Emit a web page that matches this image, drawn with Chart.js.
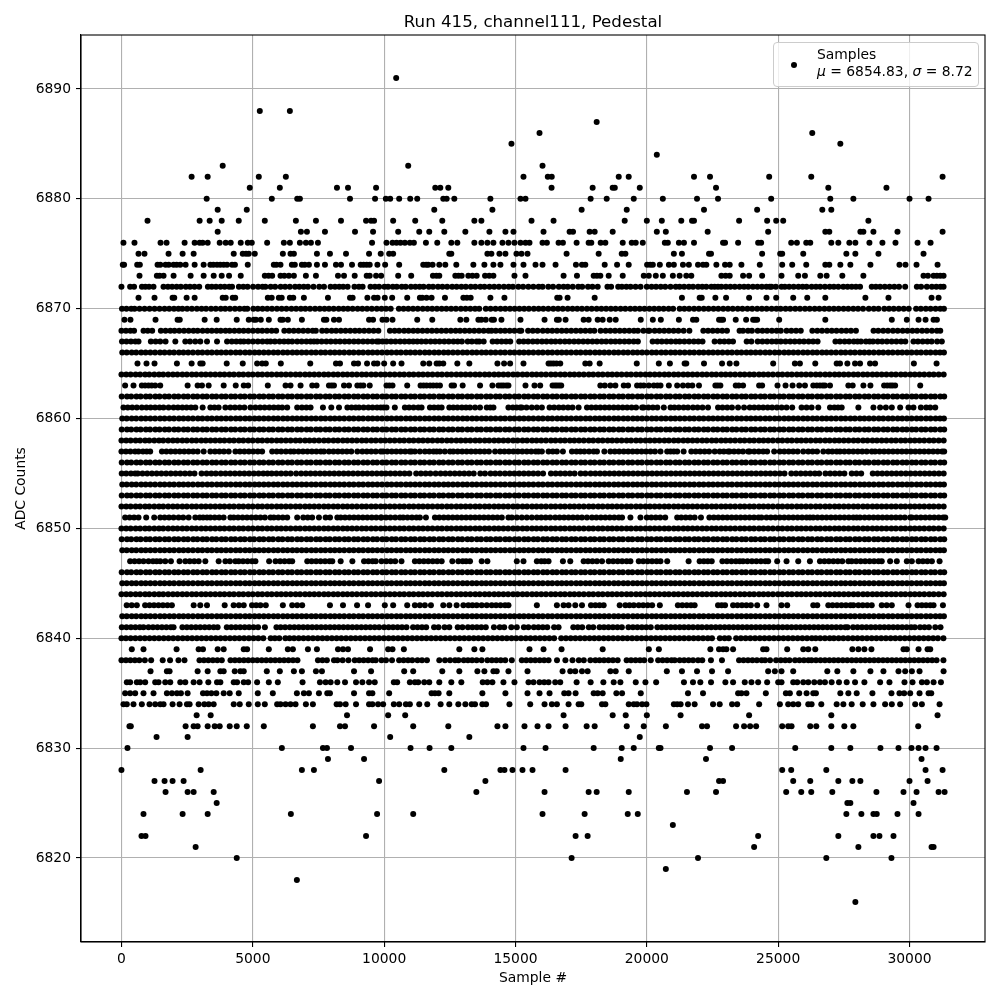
<!DOCTYPE html>
<html>
<head>
<meta charset="utf-8">
<script src="https://cdn.jsdelivr.net/npm/chart.js@4/dist/chart.umd.min.js"></script>
<style>
  body { margin: 0; background: #fff; }
  #wrap { position: relative; width: 1000px; height: 1000px; }
  #legend {
    position: absolute; left: 773px; top: 42px; width: 204px; height: 43px;
    background: rgba(255,255,255,0.8); border: 1px solid #ccc; border-radius: 4px;
    font: 13.89px "DejaVu Sans"; color: #000; line-height: 16.5px;
  }
  #legend .dot { position: absolute; left: 17px; top: 19px; width: 6px; height: 6px; border-radius: 50%; background: #000; }
  #legend .txt { position: absolute; left: 43px; top: 3px; white-space: nowrap; }
</style>
</head>
<body>
<div id="wrap">
  <canvas id="myChart" width="1000" height="1000"></canvas>
  <div id="legend"><span class="dot"></span><div class="txt">Samples<br><i>μ</i> = 6854.83, <i>σ</i> = 8.72</div></div>
</div>
<script>
const xTicks = [0, 5000, 10000, 15000, 20000, 25000, 30000];
const yTicks = [6820, 6830, 6840, 6850, 6860, 6870, 6880, 6890];

// outer levels, one dot at a time
const y6891 = [10458];
const y6888 = [5266, 6411];
const y6887 = [18090];
const y6886 = [15915, 26297];
const y6885 = [14846, 27366];
const y6884 = [20380];
const y6883 = [3854, 10916, 16029];
const y6882 = [2671, 3282, 5228, 6258, 15304, 16230, 16380, 18930, 19310, 21795, 22405, 24657, 26259, 31258];
const y6881 = [4884, 6029, 8204, 8624, 9693, 11946, 12137, 12442, 16373, 17937, 18700, 18780, 19731, 22634, 26908, 29121];
const y6880 = [3244, 5724, 6691, 6793, 8700, 9654, 10064, 10229, 10572, 10992, 11259, 12250, 12380, 12671, 14045, 15190, 15380, 17861, 18472, 19502, 20609, 21910, 22710, 24733, 26984, 27862, 30000, 30724];
const y6879 = [3663, 4770, 11908, 14121, 17518, 19235, 22176, 24199, 26679, 27022];
const y6878 = [992, 2976, 3358, 3816, 4465, 5457, 6640, 7403, 8357, 9311, 9502, 9616, 10343, 11183, 12213, 13434, 13702, 15610, 16449, 19158, 20000, 20570, 21311, 21720, 21795, 23512, 24580, 24924, 25191, 28434];
const y6877 = [3663, 6831, 7060, 7747, 8891, 9578, 10534, 11336, 11717, 12290, 13091, 14007, 14617, 14923, 16067, 17060, 17190, 17823, 18014, 18700, 20380, 20723, 22316, 24618, 26794, 26946, 28129, 28243, 28625, 29541, 31258];
const y6876 = [76, 496, 1488, 1717, 2404, 2786, 2976, 3091, 3282, 3740, 3969, 4159, 4541, 4808, 4961, 5546, 6182, 6411, 6793, 7022, 7212, 7479, 9540, 10089, 10318, 10471, 10623, 10789, 10979, 11132, 11590, 12022, 12557, 12786, 13434, 13702, 13930, 14159, 14503, 14732, 14961, 15190, 15380, 15533, 16029, 16195, 16640, 16805, 17327, 17785, 17886, 18243, 18421, 19082, 19425, 19578, 19845, 20685, 20799, 21220, 21413, 21795, 22901, 22977, 23474, 24237, 24351, 25496, 25712, 26068, 26221, 27022, 27290, 27709, 27938, 28473, 28968, 29465, 30305, 30801];
const y6875 = [649, 877, 1793, 2328, 2748, 4274, 4617, 4744, 4846, 5075, 6144, 6436, 6564, 7441, 7937, 8548, 9425, 9870, 10191, 10343, 12480, 12557, 13930, 14083, 14388, 14617, 15037, 15228, 15457, 16945, 18166, 19044, 19184, 21029, 21336, 22367, 22443, 24389, 25076, 25153, 25954, 27595, 27938, 28816, 30533];
const y6874 = [51, 100, 600, 700, 1374, 1480, 1679, 1800, 1984, 2100, 2239, 2442, 2786, 3129, 3384, 3500, 3638, 3760, 3892, 4020, 4210, 4320, 4808, 5800, 5900, 6054, 6487, 6600, 6869, 6980, 7136, 7441, 7747, 8166, 8357, 8777, 9107, 9220, 9336, 9450, 9743, 10038, 10572, 11488, 11600, 11679, 11844, 12099, 12328, 12747, 13396, 13816, 14159, 14426, 14923, 15304, 15762, 16029, 16525, 17301, 17531, 17658, 18396, 18867, 19310, 20010, 20130, 20228, 20495, 20839, 21029, 21375, 21600, 21948, 22138, 22265, 22647, 22977, 23155, 23600, 24300, 25153, 25534, 26068, 26794, 26946, 27366, 27747, 28511, 29617, 29846, 30266, 31067];
const y6873 = [687, 1348, 1450, 1603, 1984, 2633, 3129, 3511, 3816, 4096, 4541, 5457, 5600, 5737, 6054, 6200, 6373, 6564, 7021, 7403, 8243, 8472, 8879, 9336, 9450, 9693, 9886, 10534, 11030, 11857, 11990, 12099, 12709, 12830, 12951, 13205, 13360, 13523, 13841, 14000, 14159, 14961, 15380, 16831, 17340, 17976, 18100, 18230, 18548, 19082, 19883, 20074, 20341, 20609, 20990, 21248, 21502, 21693, 22838, 23000, 23155, 23664, 23893, 24389, 25127, 25763, 26018, 26603, 26844, 27442, 28243, 30533, 30700, 30915, 31042, 31169, 31296];
const y6872 = [0, 330, 480, 780, 910, 1050, 1220, 1600, 1770, 1930, 2100, 2260, 2450, 2610, 2780, 2960, 3290, 3440, 3600, 3770, 3930, 4100, 4210, 4470, 4640, 4800, 5010, 5200, 5370, 5480, 5680, 5850, 6060, 6230, 6410, 6610, 6770, 6940, 7100, 7310, 7530, 7710, 7960, 8130, 8290, 8440, 8610, 8870, 9040, 9180, 9480, 9650, 9810, 10010, 10150, 10330, 10480, 10670, 10820, 11020, 11190, 11350, 11500, 11700, 11860, 12050, 12220, 12400, 12590, 12760, 12940, 13110, 13300, 13470, 13660, 13820, 14010, 14190, 14370, 14560, 14740, 14900, 15110, 15290, 15490, 15680, 15880, 16030, 16250, 16430, 16650, 16830, 16990, 17180, 17390, 17540, 17760, 17930, 18130, 18500, 18640, 18910, 19050, 19220, 19380, 19570, 19760, 20000, 20180, 20350, 20530, 20700, 20900, 21100, 21248, 21420, 21600, 21760, 21950, 22110, 22265, 22455, 22580, 22710, 22838, 23010, 23180, 23350, 23530, 23700, 23860, 24040, 24210, 24380, 24550, 24682, 24746, 24910, 25127, 25254, 25420, 25590, 25770, 25930, 26081, 26272, 26440, 26600, 26780, 26960, 27120, 27290, 27480, 27640, 27800, 27960, 28116, 28561, 28720, 28880, 29060, 29240, 29420, 29600, 29834, 30279, 30440, 30660, 30850, 31020, 31180, 31296];
const y6871 = [649, 1259, 1946, 2010, 2480, 2786, 3854, 3970, 4236, 4330, 5571, 5720, 5991, 6100, 6411, 6540, 6945, 7861, 8700, 8800, 9362, 9616, 9750, 10025, 10305, 10878, 11361, 11450, 11615, 11806, 12315, 13015, 13150, 13294, 14045, 14579, 16589, 16680, 16983, 18014, 21336, 22011, 22090, 22609, 23016, 23893, 24555, 24924, 25572, 26106, 26794, 28320, 29198, 30839, 31106];
const y6870 = [20, 190, 370, 500, 690, 880, 1070, 1260, 1450, 1640, 1820, 2000, 2170, 2320, 2500, 2680, 2870, 3050, 3220, 3410, 3590, 3780, 3950, 4130, 4320, 4500, 4680, 4790, 5020, 5190, 5370, 5550, 5730, 5920, 6100, 6280, 6470, 6650, 6830, 7000, 7180, 7370, 7550, 7730, 7900, 8080, 8270, 8450, 8620, 8800, 8990, 9170, 9350, 9530, 9720, 9900, 10070, 10250, 10560, 10740, 10920, 11100, 11280, 11470, 11650, 11830, 12010, 12190, 12370, 12550, 12730, 12920, 13100, 13280, 13460, 13620, 13870, 14050, 14240, 14430, 14610, 14790, 14970, 15150, 15330, 15510, 15700, 15880, 16060, 16250, 16440, 16620, 16800, 16990, 17170, 17350, 17530, 17720, 17900, 18090, 18270, 18450, 18630, 18810, 19000, 19180, 19370, 19550, 19730, 19910, 20100, 20280, 20460, 20640, 20830, 21000, 21250, 21430, 21610, 21800, 21980, 22170, 22350, 22540, 22720, 22910, 23090, 23270, 23460, 23640, 23830, 24010, 24200, 24380, 24560, 24750, 24930, 25090, 25280, 25460, 25650, 25830, 26020, 26200, 26390, 26570, 26760, 26940, 27120, 27300, 27490, 27670, 27860, 28040, 28230, 28450, 28640, 28820, 29040, 29220, 29400, 29590, 29780, 29970, 30250, 30430, 30620, 30800, 30990, 31170, 31310];
const y6869 = [114, 343, 1297, 2137, 2220, 3167, 3625, 4388, 4846, 5037, 5120, 5304, 5610, 6054, 6140, 6335, 6869, 7708, 7800, 8090, 8281, 9425, 9578, 9936, 10089, 10318, 11259, 11832, 12900, 13129, 13587, 13700, 13867, 14096, 14180, 14465, 15190, 16106, 16576, 16650, 16907, 17594, 17785, 18128, 18319, 18586, 18815, 19769, 20228, 20533, 21220, 21757, 21884, 22749, 22830, 22901, 23384, 23779, 24046, 24120, 24199, 25038, 26794, 29325, 29897, 30343, 30610, 30915, 31042];
const y6868 = [0, 170, 340, 480, 840, 1000, 1170, 1500, 1680, 1860, 2020, 2200, 2380, 2560, 2740, 2900, 3090, 3270, 3440, 3620, 3780, 3960, 4120, 4300, 4480, 4650, 4830, 5010, 5190, 5360, 5540, 5720, 5890, 6200, 6380, 6560, 6740, 6920, 7100, 7280, 7400, 7640, 7810, 8000, 8170, 8350, 8530, 8710, 8890, 9060, 9240, 9420, 9600, 9780, 10220, 10400, 10570, 10760, 10930, 11110, 11280, 11460, 11640, 11820, 12000, 12180, 12360, 12540, 12720, 12890, 13070, 13250, 13430, 13610, 13790, 13970, 14090, 14250, 14430, 14600, 14780, 14960, 15150, 15220, 15480, 15660, 15840, 16040, 16220, 16400, 16580, 16760, 16940, 17120, 17300, 17480, 17660, 17840, 18000, 18240, 18430, 18610, 18790, 18970, 19150, 19330, 19510, 19660, 19870, 20050, 20100, 20300, 20480, 20660, 20840, 21020, 21200, 21400, 21620, 22150, 22330, 22510, 22690, 22870, 23050, 23530, 23660, 23850, 24000, 24220, 24400, 24580, 24760, 24940, 25100, 25320, 25500, 25680, 25860, 26300, 26490, 26670, 26860, 27040, 27220, 27410, 27590, 27770, 27960, 28630, 28810, 29000, 29180, 29370, 29550, 29740, 29920, 30110, 30290, 30480, 30660, 30850, 31040, 31170];
const y6867 = [20, 190, 360, 530, 649, 1120, 1300, 1475, 1679, 2051, 2430, 2610, 2810, 3002, 3257, 3638, 4020, 4200, 4370, 4530, 4658, 4830, 5010, 5190, 5370, 5546, 5673, 5840, 6020, 6190, 6350, 6500, 6690, 6860, 7040, 7200, 7327, 7450, 7620, 7800, 7970, 8150, 8320, 8500, 8670, 8850, 9020, 9200, 9370, 9550, 9720, 9800, 9940, 10090, 10260, 10430, 10610, 10780, 10950, 11107, 11260, 11420, 11590, 11770, 11940, 12110, 12290, 12460, 12640, 12800, 12960, 13180, 13340, 13520, 13620, 13790, 14130, 14300, 14470, 14640, 14800, 15140, 15310, 15480, 15660, 15830, 16010, 16180, 16360, 16520, 16700, 16880, 17050, 17230, 17400, 17580, 17750, 17930, 18100, 18280, 18450, 18630, 18800, 18970, 19150, 19320, 19500, 19660, 20220, 20400, 20570, 20750, 20920, 21100, 21250, 21430, 21610, 21790, 21960, 22120, 22580, 22780, 22950, 23120, 23280, 23800, 23980, 24220, 24400, 24580, 24760, 24930, 25100, 25280, 25460, 25630, 25810, 25980, 26160, 26330, 26500, 27180, 27350, 27530, 27700, 27880, 28020, 28150, 28340, 28480, 28610, 28790, 28960, 29140, 29320, 29500, 29680, 29840, 30150, 30320, 30500, 30680, 30840, 31050, 31230];
const y6865 = [610, 954, 1259, 2111, 2671, 3002, 3091, 4007, 4617, 5165, 5355, 5495, 6067, 7187, 8166, 8319, 8853, 9006, 9349, 9616, 9743, 10000, 10343, 10661, 11488, 11717, 11997, 12100, 12251, 12786, 13243, 14312, 14566, 14795, 15304, 16258, 16350, 16449, 16560, 16704, 17658, 17823, 18204, 19616, 20456, 20878, 21438, 21502, 22176, 22863, 23155, 23410, 24809, 25636, 25827, 26412, 27226, 27353, 27633, 27925, 28116, 28498, 28689, 30165, 31029];
const y6863 = [140, 458, 776, 900, 1030, 1150, 1285, 1476, 2519, 2900, 3065, 3320, 3892, 4350, 4655, 4821, 5571, 6246, 6436, 6818, 7263, 7428, 7899, 8000, 8090, 8472, 8662, 8980, 9100, 9209, 9451, 10089, 10200, 10318, 10878, 11386, 11500, 11615, 11750, 11870, 12000, 12124, 12569, 12659, 12989, 13651, 14121, 14350, 14450, 14541, 14650, 14732, 15380, 15724, 15940, 16411, 16500, 16576, 16660, 16741, 18230, 18400, 18612, 18803, 19121, 19286, 19629, 19760, 19883, 20074, 20265, 20400, 20520, 20838, 21155, 21375, 21566, 21731, 21985, 22609, 22700, 22800, 23384, 23500, 23664, 24275, 24389, 24974, 25280, 25547, 25801, 26018, 26336, 26470, 26590, 26700, 26781, 26972, 27671, 27836, 28244, 28511, 29032, 29150, 29261, 29350, 29452, 30407];
const y6861 = [76, 240, 410, 585, 776, 950, 1110, 1280, 1450, 1600, 1794, 1984, 2150, 2320, 2480, 2650, 2811, 3091, 3384, 3540, 3700, 3956, 4147, 4320, 4500, 4680, 4910, 5100, 5280, 5450, 5630, 5800, 5970, 6118, 6309, 6690, 6870, 7040, 7200, 7670, 7988, 8281, 8600, 8760, 8917, 9044, 9220, 9400, 9560, 9730, 9870, 9980, 10090, 10407, 10789, 10950, 11120, 11300, 11424, 11743, 11900, 12060, 12188, 12480, 12633, 12790, 12960, 13116, 13269, 13460, 13650, 13905, 14040, 14160, 14732, 14900, 15040, 15177, 15240, 15420, 15620, 15813, 16004, 16296, 16470, 16650, 16820, 17000, 17170, 17403, 17721, 17890, 18060, 18230, 18400, 18570, 18740, 18910, 19080, 19250, 19420, 19590, 19820, 19883, 20060, 20230, 20400, 20647, 20902, 21050, 21218, 21400, 21566, 21757, 21930, 22120, 22329, 22710, 22880, 23060, 23240, 23473, 23702, 23918, 24090, 24260, 24430, 24600, 24770, 24950, 25130, 25318, 25534, 25890, 26081, 26272, 26526, 26972, 27140, 27280, 27417, 28053, 28625, 28880, 29100, 29325, 29643, 29960, 30150, 30432, 30635, 30788, 30979];
const y6857 = [0, 170, 340, 520, 650, 820, 960, 1094, 1540, 1710, 1880, 2050, 2220, 2390, 2560, 2730, 2900, 3130, 3384, 3560, 3730, 3900, 4083, 4338, 4510, 4680, 4850, 5020, 5190, 5355, 5737, 5910, 6080, 6260, 6436, 6564, 6740, 6910, 7080, 7250, 7420, 7590, 7708, 7899, 8070, 8240, 8410, 8580, 8750, 8980, 9171, 9340, 9510, 9680, 9870, 9960, 10120, 10290, 10460, 10630, 10800, 10970, 11043, 11170, 11361, 11552, 11720, 11880, 11997, 12124, 12310, 12506, 12633, 12800, 12970, 13140, 13310, 13480, 13650, 13820, 13990, 14223, 14414, 14580, 14750, 14920, 15090, 15260, 15430, 15600, 15770, 15877, 16004, 16258, 16420, 16576, 16805, 17149, 17320, 17467, 17620, 17800, 17976, 18102, 18383, 18612, 18780, 18950, 19120, 19290, 19460, 19630, 19800, 19970, 20140, 20310, 20520, 20774, 20900, 21028, 21155, 21400, 21693, 21860, 22030, 22200, 22370, 22583, 22774, 22930, 23092, 23155, 23320, 23490, 23660, 23855, 23918, 24090, 24260, 24430, 24580, 24847, 25063, 25230, 25400, 25570, 25740, 25954, 26145, 26310, 26480, 26717, 26908, 27060, 27226, 27353, 27520, 27690, 27860, 28030, 28200, 28370, 28562, 28689, 28860, 29030, 29200, 29370, 29540, 29710, 29880, 30050, 30220, 30390, 30560, 30730, 30900, 31070, 31240, 31320];
const y6855 = [10, 180, 360, 520, 620, 800, 980, 1160, 1340, 1520, 1700, 1880, 2060, 2240, 2420, 2600, 2780, 3050, 3240, 3420, 3590, 3780, 3960, 4140, 4320, 4500, 4680, 4860, 5040, 5220, 5400, 5560, 5720, 5900, 6080, 6260, 6440, 6650, 6840, 7020, 7200, 7380, 7560, 7740, 7920, 8100, 8280, 8460, 8640, 8820, 9000, 9180, 9360, 9540, 9720, 9900, 10060, 10240, 10420, 10600, 10780, 10960, 11220, 11400, 11580, 11760, 11960, 12150, 12330, 12510, 12690, 12870, 13050, 13230, 13410, 13660, 13840, 14050, 14230, 14410, 14600, 14780, 14960, 15140, 15320, 15500, 15680, 15860, 16050, 16350, 16530, 16710, 16890, 17070, 17250, 17480, 17660, 17860, 18040, 18220, 18400, 18580, 18760, 18940, 19120, 19300, 19480, 19660, 19840, 20020, 20200, 20380, 20560, 20740, 20920, 21100, 21280, 21460, 21640, 21820, 22000, 22180, 22360, 22540, 22720, 22900, 23080, 23260, 23440, 23620, 23800, 23980, 24160, 24340, 24520, 24700, 24880, 25060, 25240, 25500, 25680, 25860, 26040, 26220, 26400, 26560, 26800, 26980, 27160, 27340, 27520, 27800, 27980, 28160, 28600, 28780, 28960, 29140, 29320, 29500, 29680, 29860, 30040, 30220, 30400, 30580, 30760, 30940, 31120, 31300];
const y6851 = [140, 310, 480, 650, 941, 1247, 1476, 1640, 1810, 1984, 2175, 2350, 2557, 2811, 2980, 3110, 3256, 3384, 3550, 3720, 3890, 4147, 4274, 4440, 4610, 4780, 4950, 5120, 5290, 5460, 5673, 5800, 5970, 6140, 6310, 6690, 6920, 7090, 7260, 7518, 7772, 7940, 8217, 8345, 8510, 8680, 8850, 9020, 9190, 9360, 9530, 9700, 9870, 9900, 10070, 10240, 10420, 10600, 10725, 10890, 11060, 11230, 11361, 11590, 11933, 12100, 12270, 12440, 12610, 12780, 12950, 13120, 13290, 13460, 13630, 13800, 13970, 14140, 14310, 14480, 14732, 14860, 15050, 15240, 15430, 15622, 15813, 15980, 16150, 16322, 16512, 16680, 16850, 17020, 17190, 17360, 17530, 17720, 17912, 18080, 18250, 18420, 18590, 18760, 18930, 19057, 19375, 19757, 20000, 20170, 20340, 20510, 20700, 21155, 21310, 21480, 21650, 21820, 22060, 22380, 22550, 22720, 22890, 23060, 23230, 23400, 23570, 23740, 23910, 24080, 24250, 24364, 24555, 24720, 24890, 25060, 25230, 25400, 25570, 25740, 25910, 26080, 26208, 26336, 26500, 26670, 26840, 27010, 27180, 27350, 27520, 27690, 27860, 27989, 28116, 28290, 28460, 28630, 28800, 28970, 29140, 29310, 29480, 29650, 29820, 30025, 30088, 30260, 30430, 30600, 30770, 30940, 31110, 31280, 31360];
const y6847 = [330, 500, 670, 840, 1030, 1200, 1340, 1476, 1666, 1883, 2213, 2430, 2600, 2770, 2940, 3193, 3701, 3956, 4130, 4337, 4465, 4630, 4800, 4970, 5100, 5622, 5864, 6040, 6210, 6380, 6500, 7073, 7240, 7410, 7580, 7750, 7920, 8026, 8345, 8790, 9235, 9400, 9560, 9680, 9900, 10080, 10250, 10420, 10660, 11170, 11340, 11510, 11680, 11850, 12020, 12190, 12595, 12824, 12990, 13120, 13269, 13714, 13930, 15050, 15304, 15813, 15980, 16110, 16258, 16805, 17085, 17594, 17760, 17930, 18100, 18294, 18548, 18720, 18890, 19060, 19230, 19375, 19693, 19860, 20030, 20200, 20370, 20520, 20775, 21590, 22010, 22170, 22320, 22470, 22876, 23050, 23220, 23390, 23537, 23664, 23830, 24000, 24170, 24340, 24510, 24618, 24962, 25318, 25763, 26208, 26590, 26760, 26930, 27100, 27270, 27440, 27671, 27798, 27970, 28140, 28310, 28480, 28650, 28820, 28943, 29261, 29515, 29897, 30088, 30343, 30510, 30680, 30851, 31144];
const y6843 = [200, 390, 585, 900, 1070, 1240, 1410, 1580, 1750, 1920, 2750, 3000, 3256, 3930, 4270, 4470, 4655, 4970, 5130, 5290, 5495, 6144, 6500, 6690, 6880, 7937, 8433, 8968, 9387, 10025, 10343, 10878, 11170, 11360, 11550, 11781, 12250, 12480, 12760, 13015, 13205, 13360, 13523, 13714, 13905, 14096, 14260, 14430, 14604, 14732, 15813, 16576, 16831, 17021, 17276, 17531, 17874, 18040, 18200, 18357, 18967, 19184, 19340, 19502, 19693, 19860, 20030, 20202, 20495, 21181, 21350, 21520, 21680, 21820, 22710, 22850, 22977, 23283, 23450, 23620, 23790, 23960, 24200, 24555, 25127, 25343, 26336, 26488, 26908, 27070, 27240, 27410, 27580, 27750, 27862, 28053, 28220, 28390, 28562, 28943, 29130, 29325, 29961, 30305, 30470, 30630, 30788, 30915, 31271];
const y6841 = [13, 190, 360, 530, 700, 840, 1030, 1200, 1370, 1540, 1710, 1880, 1984, 2320, 2490, 2660, 2830, 3000, 3170, 3340, 3510, 3660, 4010, 4180, 4350, 4520, 4690, 4860, 5030, 5200, 5460, 5900, 6060, 6230, 6410, 6580, 6750, 6920, 7090, 7260, 7430, 7600, 7770, 7940, 8110, 8280, 8450, 8620, 8790, 8960, 9130, 9300, 9470, 9640, 9810, 10000, 10170, 10340, 10510, 10680, 10850, 11100, 11270, 11440, 11600, 11900, 12070, 12300, 12480, 12800, 12980, 13190, 13360, 13530, 13700, 13870, 14180, 14400, 14570, 14840, 15050, 15320, 15490, 15700, 15870, 16040, 16210, 16470, 16640, 17200, 17370, 17540, 17790, 17960, 18200, 18370, 18540, 18710, 18880, 19050, 19300, 19470, 19640, 19810, 19980, 20150, 20400, 20570, 20740, 20910, 21080, 21250, 21420, 21590, 21760, 21940, 22100, 22280, 22450, 22620, 22790, 22960, 23130, 23300, 23470, 23640, 23810, 23980, 24150, 24320, 24490, 24660, 24830, 25000, 25170, 25340, 25510, 25680, 25850, 26020, 26190, 26360, 26530, 26700, 26870, 27040, 27210, 27380, 27550, 27640, 27850, 28020, 28190, 28360, 28530, 28700, 28870, 29040, 29210, 29380, 29550, 29720, 29890, 30060, 30200, 30400, 30570, 30740, 30980, 31180];
const y6840 = [0, 170, 350, 530, 710, 890, 1070, 1250, 1430, 1610, 1790, 1970, 2150, 2330, 2510, 2690, 2870, 3050, 3230, 3410, 3590, 3770, 3950, 4130, 4310, 4490, 4670, 4850, 5030, 5210, 5400, 5680, 5840, 6010, 6240, 6400, 6570, 6750, 6930, 7110, 7290, 7470, 7650, 7830, 8010, 8190, 8370, 8550, 8730, 8910, 9090, 9270, 9450, 9630, 9810, 9990, 10170, 10350, 10530, 10710, 10890, 11070, 11250, 11430, 11610, 11790, 11970, 12150, 12330, 12510, 12690, 12870, 13050, 13230, 13410, 13590, 13770, 13950, 14130, 14310, 14490, 14670, 14850, 15030, 15210, 15390, 15570, 15750, 15930, 16110, 16290, 16470, 16740, 16920, 17100, 17280, 17460, 17640, 17820, 18000, 18180, 18360, 18540, 18720, 18900, 19080, 19260, 19440, 19620, 19800, 19980, 20160, 20340, 20520, 20700, 20880, 21060, 21240, 21420, 21600, 21780, 21960, 22140, 22320, 22480, 22780, 22960, 23120, 23400, 23580, 23760, 23940, 24120, 24300, 24480, 24660, 24840, 25020, 25200, 25380, 25560, 25740, 25920, 26100, 26280, 26430, 26600, 26780, 26960, 27120, 27300, 27480, 27660, 27840, 28020, 28200, 28380, 28560, 28740, 28920, 29100, 29280, 29460, 29640, 29820, 30000, 30180, 30360, 30540, 30720, 30900, 31080, 31290];
const y6839 = [394, 839, 2099, 2938, 3104, 3663, 3892, 4655, 4783, 5610, 6334, 6526, 7098, 7441, 8243, 8434, 8624, 9463, 10152, 10318, 10751, 12862, 13434, 13740, 15533, 16067, 16754, 18319, 20076, 20458, 22418, 22748, 22901, 23028, 23283, 24427, 24555, 25343, 25954, 26145, 26412, 27824, 28053, 28282, 28549, 29770, 29897, 30343, 30686, 30788];
const y6838 = [0, 170, 340, 510, 680, 890, 1130, 1570, 1850, 2170, 2400, 2970, 3140, 3310, 3480, 3650, 3820, 4150, 4320, 4490, 4660, 4830, 5000, 5170, 5340, 5510, 5680, 5850, 6020, 6190, 6360, 6530, 6700, 7480, 7650, 7820, 8090, 8220, 8420, 8640, 8880, 9050, 9220, 9390, 9560, 9680, 9900, 10070, 10300, 10570, 10740, 10910, 11070, 11270, 11440, 11630, 12099, 12317, 12510, 12700, 12830, 13030, 13190, 13350, 13520, 13710, 13930, 14100, 14270, 14440, 14610, 14860, 15240, 15410, 15580, 15750, 15920, 16090, 16260, 16580, 16900, 17170, 17410, 17600, 17850, 18040, 18200, 18370, 18540, 18710, 18890, 19230, 19400, 19570, 19740, 19900, 20150, 20430, 20600, 20770, 20940, 21060, 21250, 21420, 21590, 21760, 21950, 22110, 22440, 22860, 23510, 23680, 23850, 24020, 24190, 24370, 24500, 24690, 24920, 25100, 25270, 25430, 25640, 25810, 25980, 26150, 26270, 26440, 26610, 26780, 26950, 27120, 27290, 27460, 27630, 27800, 27970, 28140, 28310, 28480, 28650, 28820, 28990, 29160, 29330, 29500, 29670, 29840, 30010, 30180, 30350, 30520, 30690, 30860, 31030, 31290];
const y6837 = [1107, 1730, 1832, 2900, 3282, 3765, 3892, 4312, 4528, 4655, 5533, 6029, 6564, 6869, 7403, 7632, 8853, 9502, 10763, 11106, 12213, 12862, 13549, 13816, 14159, 14286, 14732, 15457, 16792, 17085, 17276, 17531, 17747, 18611, 18815, 19311, 20761, 21337, 21910, 22481, 23092, 24618, 24873, 25127, 25572, 26870, 27251, 27862, 28511, 29007, 29579, 29834, 30089, 30381, 31296];
const y6836 = [204, 331, 585, 712, 903, 1285, 1412, 1666, 1857, 2239, 2430, 2748, 2976, 3307, 3638, 3765, 4274, 4401, 4655, 4821, 5164, 5610, 5953, 6894, 7556, 7772, 7963, 8217, 8510, 8929, 9171, 9425, 9642, 10369, 10496, 10979, 11170, 11297, 11526, 11717, 12099, 12557, 12938, 13752, 13930, 14121, 14541, 14961, 15495, 15686, 15915, 16093, 16258, 16512, 16703, 17327, 17861, 18345, 18739, 18993, 19578, 19947, 20354, 21413, 21757, 22036, 22443, 22990, 23283, 23728, 23982, 24237, 24580, 25000, 25127, 25572, 25725, 25954, 26145, 26374, 26590, 26781, 27035, 27315, 27608, 27926, 28282, 28880, 29236, 29808, 30114, 30470, 30661, 30916, 31195];
const y6835 = [140, 331, 522, 839, 1221, 1730, 1921, 2112, 2264, 2519, 3104, 3256, 3422, 3612, 3892, 4121, 4465, 5190, 5762, 6678, 6945, 7136, 7517, 7835, 7937, 8853, 9425, 9552, 10191, 11806, 11933, 12073, 12480, 13739, 14617, 15457, 15915, 16296, 16856, 17021, 17288, 17976, 18128, 18319, 18840, 19057, 19769, 21566, 22138, 23474, 23600, 23791, 24530, 25293, 25445, 25801, 26081, 26336, 26437, 27366, 27671, 27989, 28587, 29312, 29617, 29795, 30025, 30381, 30725, 30827];
const y6834 = [76, 204, 458, 776, 1068, 1285, 1476, 1603, 1946, 2213, 2493, 2595, 2938, 3154, 3320, 3511, 4274, 4503, 4846, 5190, 5457, 5927, 6054, 6246, 6436, 6627, 7021, 7288, 8191, 8319, 8535, 8929, 9425, 9552, 9769, 9962, 10369, 10572, 10827, 10979, 11336, 11641, 12150, 12480, 12824, 13091, 13332, 13459, 13739, 13879, 14770, 15560, 16106, 16386, 16576, 17021, 17403, 17505, 18293, 18421, 19311, 19502, 19629, 19820, 19985, 21029, 21156, 21286, 21566, 21820, 22520, 22774, 23245, 23439, 24275, 25064, 25381, 25572, 25763, 26145, 26272, 26641, 27226, 27481, 27798, 28218, 28625, 29070, 29325, 29643, 30216, 30470, 31144];
const y6833 = [2862, 3396, 8586, 10152, 10801, 16831, 18700, 19196, 20000, 21285, 23893, 27022, 31067];
const y6832 = [305, 356, 2442, 2748, 2900, 3282, 3549, 3740, 4121, 4388, 4770, 5419, 7288, 8319, 8510, 9616, 11106, 12442, 14312, 14617, 15342, 15839, 16258, 16907, 17709, 18014, 19235, 19883, 20725, 22100, 22291, 23397, 23702, 23931, 24160, 25153, 25381, 25509, 26221, 26450, 27022, 27518, 27862, 30330];
const y6831 = [1336, 2519, 10229, 13243, 19731];
const y6830 = [229, 6106, 7670, 7823, 8739, 11005, 11730, 12557, 15304, 16144, 17976, 19044, 19502, 20456, 20520, 22405, 23245, 25649, 27022, 27747, 28893, 29579, 30076, 30343, 30610, 31029];
const y6829 = [7861, 9235, 19006, 22252, 30457];
const y6828 = [0, 3015, 6869, 7327, 12290, 14427, 14580, 14885, 15266, 15648, 16907, 25153, 25496, 26832, 30610, 31258];
const y6827 = [1259, 1641, 1946, 2366, 9807, 13854, 22749, 22901, 25572, 26221, 27290, 27824, 28129, 30000, 30686];
const y6826 = [1679, 2519, 2748, 3511, 13510, 16106, 17785, 18090, 19311, 21527, 22634, 25305, 25878, 26259, 27060, 28740, 29770, 30267, 31106, 31335];
const y6825 = [3625, 27633, 27747, 30152];
const y6824 = [839, 2328, 3282, 6449, 9731, 11106, 16029, 17632, 19273, 19655, 27595, 28167, 28625, 28752, 29541, 30343];
const y6823 = [20990];
const y6822 = [763, 916, 9311, 17288, 17747, 24237, 27290, 28625, 28854, 29389];
const y6821 = [2824, 24084, 28053, 30839, 30916];
const y6820 = [4388, 17136, 21948, 26832, 29312];
const y6819 = [20723];
const y6818 = [6678];
const y6816 = [27938];

// the solid bands: single samples cannot be told apart there, so these are estimated runs
const solidA = [0, 180, 350, 540, 710, 900, 1060, 1250, 1430, 1590, 1780, 1960, 2130, 2320, 2490, 2680, 2850, 3040, 3210, 3390, 3570, 3750, 3920, 4110, 4280, 4470, 4640, 4830, 5000, 5190, 5360, 5550, 5720, 5910, 6080, 6260, 6440, 6630, 6800, 6990, 7160, 7340, 7520, 7710, 7880, 8070, 8240, 8430, 8600, 8780, 8960, 9150, 9320, 9510, 9680, 9870, 10040, 10220, 10400, 10590, 10760, 10950, 11120, 11310, 11480, 11660, 11840, 12030, 12200, 12390, 12560, 12750, 12920, 13100, 13280, 13470, 13640, 13830, 14000, 14190, 14360, 14540, 14720, 14910, 15080, 15270, 15440, 15630, 15800, 15980, 16160, 16350, 16520, 16710, 16880, 17070, 17240, 17420, 17600, 17790, 17960, 18150, 18320, 18510, 18680, 18860, 19040, 19230, 19400, 19590, 19760, 19950, 20120, 20300, 20480, 20670, 20840, 21030, 21200, 21390, 21560, 21740, 21920, 22110, 22280, 22470, 22640, 22830, 23000, 23180, 23360, 23550, 23720, 23910, 24080, 24270, 24440, 24620, 24800, 24990, 25160, 25350, 25520, 25710, 25880, 26060, 26240, 26430, 26600, 26790, 26960, 27150, 27320, 27500, 27680, 27870, 28040, 28230, 28400, 28590, 28760, 28940, 29120, 29310, 29480, 29670, 29840, 30030, 30200, 30380, 30560, 30750, 30920, 31110, 31300];
const solidB = [30, 200, 390, 560, 750, 920, 1100, 1280, 1470, 1640, 1830, 2000, 2190, 2360, 2540, 2720, 2910, 3080, 3270, 3440, 3630, 3800, 3980, 4160, 4350, 4520, 4710, 4880, 5070, 5240, 5420, 5600, 5790, 5960, 6150, 6320, 6510, 6680, 6860, 7040, 7230, 7400, 7590, 7760, 7950, 8120, 8300, 8480, 8670, 8840, 9030, 9200, 9390, 9560, 9740, 9920, 10110, 10280, 10470, 10640, 10830, 11000, 11180, 11360, 11550, 11720, 11910, 12080, 12270, 12440, 12620, 12800, 12990, 13160, 13350, 13520, 13710, 13880, 14060, 14240, 14430, 14600, 14790, 14960, 15150, 15320, 15500, 15680, 15870, 16040, 16230, 16400, 16590, 16760, 16940, 17120, 17310, 17480, 17670, 17840, 18030, 18200, 18380, 18560, 18750, 18920, 19110, 19280, 19470, 19640, 19820, 20000, 20190, 20360, 20550, 20720, 20910, 21080, 21260, 21440, 21630, 21800, 21990, 22160, 22350, 22520, 22700, 22880, 23070, 23240, 23430, 23600, 23790, 23960, 24140, 24320, 24510, 24680, 24870, 25040, 25230, 25400, 25580, 25760, 25950, 26120, 26310, 26480, 26670, 26840, 27020, 27200, 27390, 27560, 27750, 27920, 28110, 28280, 28460, 28640, 28830, 29000, 29190, 29360, 29550, 29720, 29900, 30080, 30270, 30440, 30630, 30800, 30990, 31160, 31310];
const solidC = [10, 210, 370, 570, 730, 930, 1090, 1290, 1450, 1650, 1810, 2010, 2170, 2370, 2530, 2730, 2890, 3090, 3250, 3450, 3610, 3810, 3970, 4170, 4330, 4530, 4690, 4890, 5050, 5250, 5410, 5610, 5770, 5970, 6130, 6330, 6490, 6690, 6850, 7050, 7210, 7410, 7570, 7770, 7930, 8130, 8290, 8490, 8650, 8850, 9010, 9210, 9370, 9570, 9730, 9930, 10090, 10290, 10450, 10650, 10810, 11010, 11170, 11370, 11530, 11730, 11890, 12090, 12250, 12450, 12610, 12810, 12970, 13170, 13330, 13530, 13690, 13890, 14050, 14250, 14410, 14610, 14770, 14970, 15130, 15330, 15490, 15690, 15850, 16050, 16210, 16410, 16570, 16770, 16930, 17130, 17290, 17490, 17650, 17850, 18010, 18210, 18370, 18570, 18730, 18930, 19090, 19290, 19450, 19650, 19810, 20010, 20170, 20370, 20530, 20730, 20890, 21090, 21250, 21450, 21610, 21810, 21970, 22170, 22330, 22530, 22690, 22890, 23050, 23250, 23410, 23610, 23770, 23970, 24130, 24330, 24490, 24690, 24850, 25050, 25210, 25410, 25570, 25770, 25930, 26130, 26290, 26490, 26650, 26850, 27010, 27210, 27370, 27570, 27730, 27930, 28090, 28290, 28450, 28650, 28810, 29010, 29170, 29370, 29530, 29730, 29890, 30090, 30250, 30450, 30610, 30810, 30970, 31170, 31320];

const levelY = [6891, 6888, 6887, 6886, 6885, 6884, 6883, 6882, 6881, 6880, 6879, 6878, 6877, 6876, 6875, 6874, 6873, 6872, 6871, 6870, 6869, 6868, 6867, 6866, 6865, 6864, 6863, 6862, 6861, 6860, 6859, 6858, 6857, 6856, 6855, 6854, 6853, 6852, 6851, 6850, 6849, 6848, 6847, 6846, 6845, 6844, 6843, 6842, 6841, 6840, 6839, 6838, 6837, 6836, 6835, 6834, 6833, 6832, 6831, 6830, 6829, 6828, 6827, 6826, 6825, 6824, 6823, 6822, 6821, 6820, 6819, 6818, 6816];
const levelX = [y6891, y6888, y6887, y6886, y6885, y6884, y6883, y6882, y6881, y6880, y6879, y6878, y6877, y6876, y6875, y6874, y6873, y6872, y6871, y6870, y6869, y6868, y6867, solidB, y6865, solidA, y6863, solidC, y6861, solidB, solidC, solidA, y6857, solidC, y6855, solidB, solidC, solidA, y6851, solidA, solidC, solidB, y6847, solidC, solidB, solidA, y6843, solidB, y6841, y6840, y6839, y6838, y6837, y6836, y6835, y6834, y6833, y6832, y6831, y6830, y6829, y6828, y6827, y6826, y6825, y6824, y6823, y6822, y6821, y6820, y6819, y6818, y6816];

var puntos = [];
levelY.forEach((nivel, i) => {
  levelX[i].forEach(muestra => puntos.push({ x: muestra, y: nivel }));
});

// top and right spines, Chart.js only draws the left and bottom ones
const marco = {
  id: 'marco',
  afterDatasetsDraw(chart) {
    const a = chart.chartArea, c = chart.ctx;
    c.save();
    c.strokeStyle = '#000';
    c.lineWidth = 1.1;
    c.strokeRect(a.left, a.top, a.right - a.left, a.bottom - a.top);
    c.restore();
  }
};

const fuente = { family: 'DejaVu Sans', size: 13.89 };

new Chart(document.getElementById('myChart').getContext('2d'), {
  type: 'scatter',
  data: {
    datasets: [{
      label: 'Samples',
      data: puntos,
      backgroundColor: '#000',
      borderWidth: 0,
      pointRadius: 3,
      clip: false
    }]
  },
  options: {
    responsive: false,
    animation: false,
    devicePixelRatio: 1,
    layout: { padding: { left: 0, right: 15, top: 0, bottom: 0 } },
    plugins: {
      legend: { display: false },
      tooltip: { enabled: false },
      title: {
        display: true,
        fullSize: false,
        text: 'Run 415, channel111, Pedestal',
        color: '#000',
        font: { family: 'DejaVu Sans', size: 16.67, weight: 'normal' },
        padding: { top: 13, bottom: 2 }
      }
    },
    scales: {
      x: {
        type: 'linear',
        min: -1540,
        max: 32873,
        afterBuildTicks: axis => { axis.ticks = xTicks.map(v => ({ value: v })); },
        afterFit: axis => { axis.height = 58; },
        grid: { color: '#b0b0b0', lineWidth: 1.1, tickColor: '#000', tickLength: 5 },
        border: { color: '#000', width: 1.1 },
        ticks: { color: '#000', font: fuente, padding: 4, maxRotation: 0, callback: v => String(v) },
        title: { display: true, text: 'Sample #', color: '#000', font: fuente, padding: { top: 4, bottom: 13 } }
      },
      y: {
        type: 'linear',
        min: 6812.35,
        max: 6894.91,
        afterBuildTicks: axis => { axis.ticks = yTicks.map(v => ({ value: v })); },
        afterFit: axis => { axis.width = 81; },
        grid: { color: '#b0b0b0', lineWidth: 1.1, tickColor: '#000', tickLength: 5 },
        border: { color: '#000', width: 1.1 },
        ticks: { color: '#000', font: fuente, padding: 5, callback: v => String(v) },
        title: { display: true, text: 'ADC Counts', color: '#000', font: fuente, padding: { top: 13, bottom: 4 } }
      }
    }
  },
  plugins: [marco]
});
</script>
</body>
</html>
